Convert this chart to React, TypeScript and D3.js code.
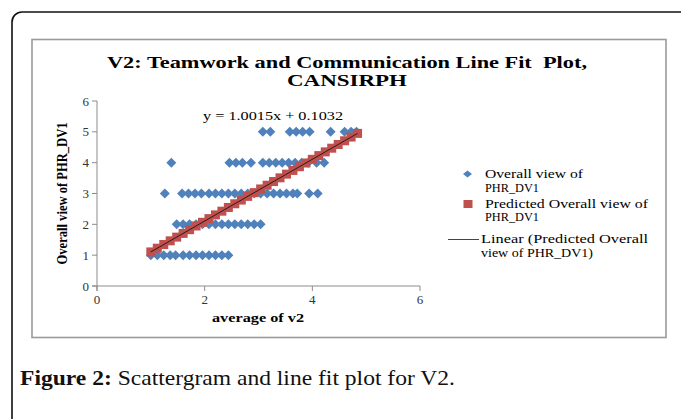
import * as d3 from 'd3';

const WIDTH = 681;
const HEIGHT = 419;
const PLOT = { left: 97, right: 420, top: 101, bottom: 286 };
const SERIF = "'Liberation Serif', 'Times New Roman', serif";

const X_TICKS = [0, 2, 4, 6];
const Y_TICKS = [0, 1, 2, 3, 4, 5, 6];

// observed "average of v2" values, grouped by PHR_DV1 score
const Y_LEVELS = [1, 2, 3, 4, 5];
const X_AT_1 = [1.0, 1.12, 1.24, 1.36, 1.46, 1.6, 1.72, 1.84, 1.96, 2.08, 2.2, 2.32, 2.44];
const X_AT_2 = [1.48, 1.6, 1.72, 1.84, 1.96, 2.08, 2.2, 2.32, 2.44, 2.56, 2.68, 2.8, 2.92, 3.04];
const X_AT_3 = [1.26, 1.58, 1.7, 1.82, 1.94, 2.08, 2.2, 2.32, 2.44, 2.56, 2.68, 2.8, 2.92, 3.04, 3.16, 3.28, 3.4, 3.52, 3.64, 3.72, 3.94, 4.1];
const X_AT_4 = [1.38, 2.46, 2.58, 2.7, 2.86, 3.08, 3.2, 3.32, 3.44, 3.56, 3.68, 3.8, 3.92, 4.08, 4.22];
const X_AT_5 = [3.08, 3.22, 3.58, 3.7, 3.82, 3.95, 4.34, 4.6, 4.72, 4.82];

// predicted series (red squares)
const PRED_X = [1.0, 1.12, 1.24, 1.36, 1.48, 1.6, 1.72, 1.84, 1.96, 2.08, 2.2, 2.32, 2.44, 2.56, 2.68, 2.8, 2.92, 3.04, 3.16, 3.28, 3.4, 3.52, 3.64, 3.76, 3.88, 4.0, 4.12, 4.24, 4.36, 4.48, 4.6, 4.72, 4.84];
const PRED_Y = [1.105, 1.225, 1.345, 1.465, 1.585, 1.706, 1.826, 1.946, 2.066, 2.186, 2.306, 2.427, 2.547, 2.667, 2.787, 2.907, 3.028, 3.148, 3.268, 3.388, 3.508, 3.628, 3.749, 3.869, 3.989, 4.109, 4.229, 4.35, 4.47, 4.59, 4.71, 4.83, 4.95];

const EQUATION = 'y = 1.0015x + 0.1032';

const BLUE = '#4F81BD';
const RED = '#C0504D';

const diamond = (cx: number, cy: number, rx: number, ry: number) =>
  `M${cx},${cy - ry}L${cx + rx},${cy}L${cx},${cy + ry}L${cx - rx},${cy}Z`;

const App = () => {
  const xScale = d3.scaleLinear().domain([0, 6]).range([PLOT.left, PLOT.right]);
  const yScale = d3.scaleLinear().domain([0, 6]).range([PLOT.bottom, PLOT.top]);

  const observed = [X_AT_1, X_AT_2, X_AT_3, X_AT_4, X_AT_5].flatMap((xs, i) =>
    xs.map((x) => ({ x, y: Y_LEVELS[i] }))
  );
  const predicted = PRED_X.map((x, i) => ({ x, y: PRED_Y[i] }));

  const fitLine = d3
    .line<{ x: number; y: number }>()
    .x((d) => xScale(d.x))
    .y((d) => yScale(d.y))([predicted[0], predicted[predicted.length - 1]]);

  const axisColor = '#8c8c8c';

  return (
    <svg
      width={WIDTH}
      height={HEIGHT}
      style={{ position: 'absolute', left: 0, top: 0, background: '#fff' }}
      fontFamily={SERIF}
    >
      {/* page frame */}
      <rect x={12} y={12} width={720} height={460} rx={10} fill="none" stroke="#111" strokeWidth={1.6} />
      {/* chart area box */}
      <rect x={32} y={39.5} width={634} height={298} fill="#fff" stroke="#9a9a9a" strokeWidth={1.6} />

      {/* title */}
      <text x={347} y={68} textAnchor="middle" fontWeight="bold" fontSize={17} textLength={480} lengthAdjust="spacingAndGlyphs" xmlSpace="preserve">
        {'V2: Teamwork and Communication Line Fit  Plot,'}
      </text>
      <text x={347} y={86} textAnchor="middle" fontWeight="bold" fontSize={17} textLength={120} lengthAdjust="spacingAndGlyphs">
        CANSIRPH
      </text>

      {/* axes */}
      <g stroke={axisColor} strokeWidth={1}>
        <line x1={PLOT.left} x2={PLOT.left} y1={PLOT.top} y2={PLOT.bottom + 5} />
        <line x1={PLOT.left - 5} x2={PLOT.right} y1={PLOT.bottom} y2={PLOT.bottom} />
        {Y_TICKS.map((t) => (
          <line key={t} x1={PLOT.left - 5} x2={PLOT.left} y1={yScale(t)} y2={yScale(t)} />
        ))}
        {X_TICKS.map((t) => (
          <line key={t} x1={xScale(t)} x2={xScale(t)} y1={PLOT.bottom} y2={PLOT.bottom + 5} />
        ))}
      </g>
      {Y_TICKS.map((t) => (
        <text key={t} x={PLOT.left - 8} y={yScale(t) + 4.5} textAnchor="end" fontSize={13} fill="#333">
          {t}
        </text>
      ))}
      {X_TICKS.map((t) => (
        <text key={t} x={xScale(t)} y={PLOT.bottom + 18} textAnchor="middle" fontSize={13} fill="#333">
          {t}
        </text>
      ))}
      <text x={258} y={322} textAnchor="middle" fontWeight="bold" fontSize={13} textLength={92} lengthAdjust="spacingAndGlyphs">
        average of v2
      </text>
      <text
        transform={`translate(67,${(PLOT.top + PLOT.bottom) / 2}) rotate(-90)`}
        textAnchor="middle"
        fontWeight="bold"
        fontSize={14}
        textLength={142}
        lengthAdjust="spacingAndGlyphs"
      >
        Overall view of PHR_DV1
      </text>

      {/* marks */}
      {observed.map((d, i) => (
        <path key={i} d={diamond(xScale(d.x), yScale(d.y), 5, 5)} fill={BLUE} />
      ))}
      {predicted.map((d, i) => (
        <rect key={i} x={xScale(d.x) - 4.5} y={yScale(d.y) - 4.5} width={9} height={9} fill={RED} />
      ))}
      <path d={fitLine || ''} stroke="#2a1a1a" strokeWidth={1} fill="none" />

      <text x={273} y={120} textAnchor="middle" fontSize={13} textLength={140} lengthAdjust="spacingAndGlyphs">
        {EQUATION}
      </text>

      {/* legend */}
      <path d={diamond(467.5, 174, 4.5, 3.5)} fill={BLUE} />
      <text x={485} y={178} fontSize={12} textLength={98} lengthAdjust="spacingAndGlyphs">Overall view of</text>
      <text x={485} y={191.5} fontSize={12} textLength={54} lengthAdjust="spacingAndGlyphs">PHR_DV1</text>
      <rect x={463.5} y={200} width={9} height={8} fill={RED} />
      <text x={485} y={207.5} fontSize={12} textLength={163} lengthAdjust="spacingAndGlyphs">Predicted Overall view of</text>
      <text x={485} y={221} fontSize={12} textLength={54} lengthAdjust="spacingAndGlyphs">PHR_DV1</text>
      <line x1={448} x2={479} y1={239.5} y2={239.5} stroke="#444" strokeWidth={1} />
      <text x={481} y={243} fontSize={12} textLength={167} lengthAdjust="spacingAndGlyphs">Linear (Predicted Overall</text>
      <text x={481} y={257} fontSize={12} textLength={112} lengthAdjust="spacingAndGlyphs">view of PHR_DV1)</text>

      {/* caption */}
      <text x={20} y={385} fontSize={21} fill="#111" textLength={435} lengthAdjust="spacingAndGlyphs">
        <tspan fontWeight="bold">Figure 2:</tspan> Scattergram and line fit plot for V2.
      </text>
    </svg>
  );
};

export default App;
